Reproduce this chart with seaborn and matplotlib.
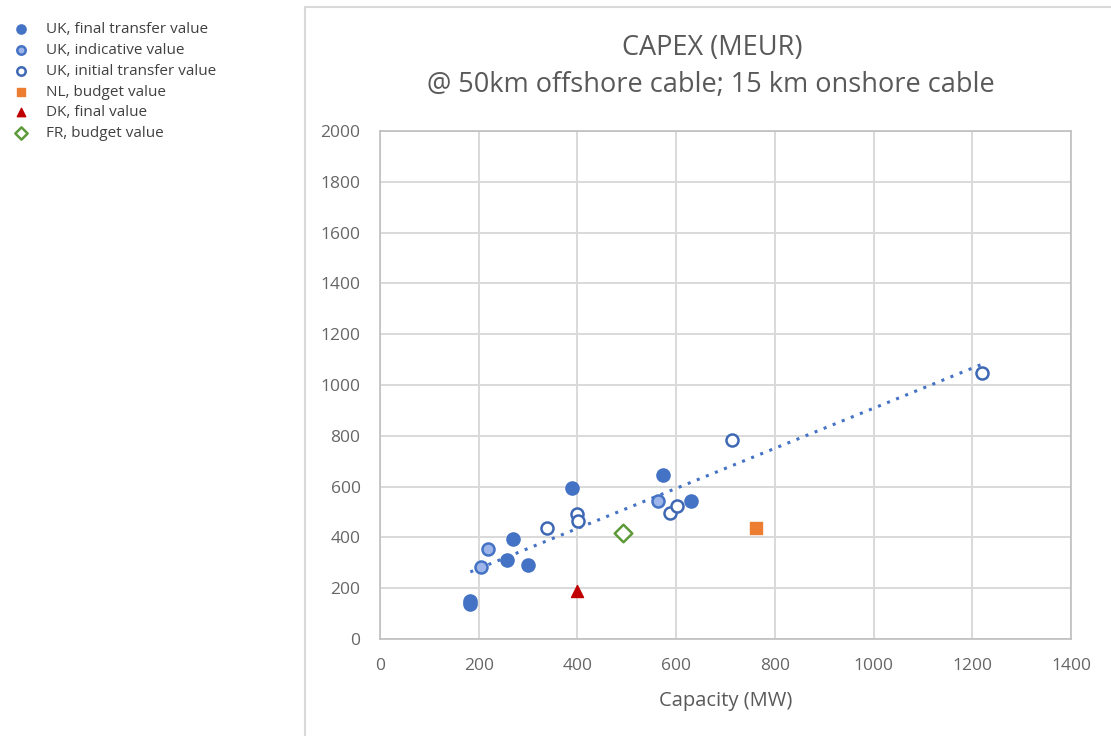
import numpy as np
import pandas as pd
import matplotlib
matplotlib.use("Agg")
import matplotlib.pyplot as plt
from matplotlib.patches import Rectangle
import seaborn as sns

# ---- data ----
final_x = [183, 183, 270, 258, 300, 389, 574, 631]
final_y = [150, 137, 395, 312, 292, 593, 647, 543]
indicative_x = [204, 219, 563]
indicative_y = [285, 353, 543]
initial_x = [338, 399, 401, 587, 601, 714, 1220]
initial_y = [436, 492, 466, 498, 522, 782, 1047]
nl_x = [761]
nl_y = [437]
dk_x = [399]
dk_y = [188]
fr_x = [493]
fr_y = [416]

labels = ["UK, final transfer value", "UK, indicative value", "UK, initial transfer value",
          "NL, budget value", "DK, final value", "FR, budget value"]
x_ticks = [0, 200, 400, 600, 800, 1000, 1200, 1400]
y_ticks = [0, 200, 400, 600, 800, 1000, 1200, 1400, 1600, 1800, 2000]

sns.set_theme(style="white")
plt.rcParams['font.family'] = ['Open Sans', 'DejaVu Sans']

fig = plt.figure(figsize=(11.11, 7.36), dpi=100)
ax = fig.add_axes([380/1111, 1-639/736, (1071-380)/1111, (639-131)/736])

# outer chart frame
fig.add_artist(Rectangle((305/1111, -0.05), 0.8, 1-7/736+0.05, transform=fig.transFigure,
                         fill=False, edgecolor="#d9d9d9", linewidth=1.5))

blue = "#4472C4"
groups = [
    (final_x, final_y, dict(marker="o", color=blue, edgecolor=blue, s=90, linewidth=1)),
    (indicative_x, indicative_y, dict(marker="o", color="#9DB5E8", edgecolor=blue, s=75, linewidth=1.8)),
    (initial_x, initial_y, dict(marker="o", color="white", edgecolor="#3E68B4", s=75, linewidth=1.8)),
    (nl_x, nl_y, dict(marker="s", color="#ED7D31", edgecolor="#ED7D31", s=70, linewidth=1)),
    (dk_x, dk_y, dict(marker="^", color="#C00000", edgecolor="#C00000", s=75, linewidth=1)),
    (fr_x, fr_y, dict(marker="D", color="white", edgecolor="#5E9A3A", s=80, linewidth=1.8)),
]

# trend line through all UK points
uk_x = np.array(final_x + indicative_x + initial_x, dtype=float)
uk_y = np.array(final_y + indicative_y + initial_y, dtype=float)
coef = np.polyfit(uk_x, uk_y, 1)
tx = np.array([uk_x.min(), uk_x.max()])
trend = pd.DataFrame({"x": tx, "y": np.polyval(coef, tx)})
sns.lineplot(data=trend, x="x", y="y", ax=ax, color=blue, linestyle=(0, (1, 2.2)),
             linewidth=2.2, zorder=2)

for (gx, gy, kw), lab in zip(groups, labels):
    df = pd.DataFrame({"x": gx, "y": gy})
    sns.scatterplot(data=df, x="x", y="y", ax=ax, zorder=3, label=lab, **kw)

h, l = ax.get_legend_handles_labels()
if ax.get_legend():
    ax.get_legend().remove()
leg = fig.legend(h[-6:], l[-6:], loc="upper left", bbox_to_anchor=(6/1111, 1-16/736),
                 frameon=False, fontsize=11, markerscale=0.7, handletextpad=1.0,
                 labelspacing=0.38, handlelength=1.2, borderaxespad=0)
for t in leg.get_texts():
    t.set_color("#404040")

ax.set_xlim(0, 1400)
ax.set_ylim(0, 2000)
ax.set_xticks(x_ticks)
ax.set_yticks(y_ticks)
ax.grid(True, color="#d9d9d9", linewidth=1.4)
ax.set_axisbelow(True)
for sp in ax.spines.values():
    sp.set_color("#bfbfbf")
    sp.set_linewidth(1.2)
ax.tick_params(axis="both", colors="#666666", labelsize=12.5, length=0, pad=14)
ax.set_xlabel("Capacity (MW)", fontsize=14.5, color="#595959", labelpad=12)
ax.set_ylabel("")

fig.text(712/1111, 1-48/736, "CAPEX (MEUR)", ha="center", va="center", fontsize=19.5, color="#595959")
fig.text(711/1111, 1-85/736, "@ 50km offshore cable; 15 km onshore cable", ha="center", va="center",
         fontsize=19.5, color="#595959")

fig.savefig("out.png", dpi=100)
